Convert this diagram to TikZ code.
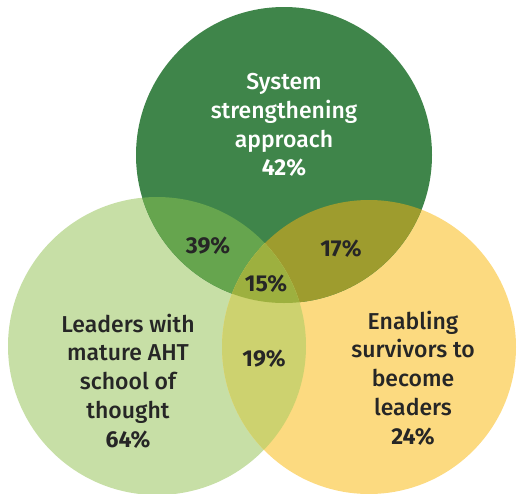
\documentclass[tikz,border=0pt]{standalone}
\usepackage{fontspec}
\setmainfont{Fira Sans}[UprightFont=* Medium, BoldFont=* Bold]
\definecolor{topgreen}{HTML}{3F854A}
\definecolor{leftgreen}{HTML}{C7DFA6}
\definecolor{rightyellow}{HTML}{FCDA80}
\definecolor{tlmix}{HTML}{66A54E}
\definecolor{trmix}{HTML}{9E9C2E}
\definecolor{lrmix}{HTML}{CDD26F}
\definecolor{allmix}{HTML}{9DB03F}
\definecolor{inkdark}{HTML}{262626}
\tikzset{
  x=1pt, y=-1pt,
  label text/.style={align=center, text=inkdark, font=\fontsize{23}{28.8}\selectfont},
  pct/.style={text=inkdark, font=\fontsize{23}{26}\selectfont\bfseries},
}
\begin{document}
\begin{tikzpicture}
\useasboundingbox (0,0) rectangle (517,493);
% circle geometry
\def\topc{(284,155) circle[radius=148]}
\def\leftc{(157,346) circle[radius=149]}
\def\rightc{(369,347) circle[radius=147]}
% base discs
\fill[leftgreen] \leftc;
\fill[rightyellow] \rightc;
\fill[topgreen] \topc;
% pairwise overlaps
\begin{scope}\clip \topc; \fill[tlmix] \leftc; \end{scope}
\begin{scope}\clip \topc; \fill[trmix] \rightc; \end{scope}
\begin{scope}\clip \leftc; \fill[lrmix] \rightc; \end{scope}
% triple overlap
\begin{scope}\clip \topc; \clip \leftc; \fill[allmix] \rightc; \end{scope}
% set labels
\node[label text, text=white] (tset) at (284,125) {System\\strengthening\\approach\\\textbf{42\%}};
\node[label text] (lset) at (128,381) {Leaders with\\mature AHT\\school of\\thought\\\textbf{64\%}};
\node[label text] (rset) at (413,378) {Enabling\\survivors to\\become\\leaders\\\textbf{24\%}};
% overlap values
\node[pct] (tl) at (208,246) {39\%};
\node[pct] (tr) at (341,249) {17\%};
\node[pct] (all) at (266,284) {15\%};
\node[pct] (lr) at (264,359) {19\%};
\end{tikzpicture}
\end{document}
